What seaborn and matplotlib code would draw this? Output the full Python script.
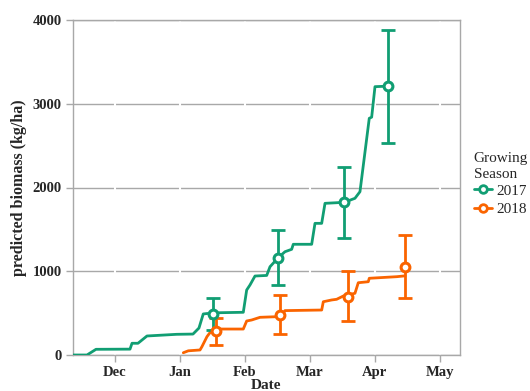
import matplotlib
matplotlib.use("Agg")
import matplotlib.pyplot as plt
import seaborn as sns
import pandas as pd

# Season time axis: months since 1 Nov (1 = Dec, 2 = Jan, ...)
month_ticks = [1, 2, 3, 4, 5, 6]
month_labels = ["Dec", "Jan", "Feb", "Mar", "Apr", "May"]

# Cumulative predicted biomass traces (kg/ha)
x_2017 = [0.354, 0.569, 0.708, 1.231, 1.262, 1.354, 1.492, 1.949, 2.200, 2.292,
          2.358, 2.415, 2.508, 2.615, 2.974, 3.026, 3.077, 3.154, 3.334, 3.385,
          3.512, 3.615, 3.718, 3.743, 4.026, 4.077, 4.180, 4.231, 4.528, 4.692,
          4.769, 4.912, 4.949, 5.000, 5.195]
y_2017 = [0, 0, 68, 70, 140, 140, 227, 247, 250, 322,
          490, 495, 500, 505, 510, 776, 836, 943, 950, 1054,
          1162, 1233, 1262, 1322, 1322, 1572, 1572, 1811, 1823, 1871,
          1950, 2826, 2840, 3204, 3210]

x_2018 = [2.051, 2.128, 2.308, 2.338, 2.415, 2.492, 2.615, 2.974, 3.026, 3.103,
          3.231, 3.477, 3.569, 3.615, 4.180, 4.205, 4.333, 4.410, 4.512, 4.692,
          4.743, 4.897, 4.912, 5.334, 5.462]
y_2018 = [27, 50, 60, 100, 219, 298, 310, 310, 406, 418,
          450, 457, 480, 530, 537, 636, 657, 665, 704, 737,
          863, 875, 916, 935, 945]

# Field estimates with uncertainty ranges
est_x_2017 = [2.508, 3.512, 4.528, 5.195]
est_y_2017 = [490, 1162, 1823, 3210]
est_lo_2017 = [300, 836, 1393, 2528]
est_hi_2017 = [677, 1493, 2249, 3880]

est_x_2018 = [2.549, 3.538, 4.589, 5.462]
est_y_2018 = [290, 478, 697, 1054]
est_lo_2018 = [119, 247, 406, 677]
est_hi_2018 = [438, 716, 1003, 1433]

seasons = ["2017", "2018"]
colors = {"2017": "#119e73", "2018": "#fa6400"}

traces = pd.concat([
    pd.DataFrame({"month": x_2017, "biomass": y_2017, "season": "2017"}),
    pd.DataFrame({"month": x_2018, "biomass": y_2018, "season": "2018"}),
], ignore_index=True)

estimates = pd.concat([
    pd.DataFrame({"month": est_x_2017, "biomass": est_y_2017,
                  "lo": est_lo_2017, "hi": est_hi_2017, "season": "2017"}),
    pd.DataFrame({"month": est_x_2018, "biomass": est_y_2018,
                  "lo": est_lo_2018, "hi": est_hi_2018, "season": "2018"}),
], ignore_index=True)

sns.set_theme(style="white")
serif = ["Liberation Serif", "DejaVu Serif"]
plt.rcParams["font.family"] = serif

fig = plt.figure(figsize=(5.3, 3.91), dpi=100)
ax = fig.add_axes([73 / 530, 36 / 391, 387 / 530, 335 / 391])

sns.lineplot(data=traces, x="month", y="biomass", hue="season",
             palette=colors, sort=False, estimator=None, lw=2,
             legend=False, ax=ax, zorder=3)

for s in seasons:
    d = estimates[estimates["season"] == s]
    ax.errorbar(d["month"], d["biomass"],
                yerr=[d["biomass"] - d["lo"], d["hi"] - d["biomass"]],
                fmt="none", ecolor=colors[s], elinewidth=2, capsize=5,
                capthick=2, zorder=4)
    sns.scatterplot(x=d["month"], y=d["biomass"], ax=ax, s=40,
                    facecolor="white", edgecolor=colors[s], linewidth=2.2,
                    zorder=5, legend=False)

ax.set_xlim(0.354, 6.308)
ax.set_ylim(0, 4000)
ax.set_xticks(month_ticks)
ax.set_xticklabels(month_labels)
ax.set_yticks([0, 1000, 2000, 3000, 4000])

ax.grid(axis="y", color="#a8a8a8", lw=1, zorder=0)
for m in month_ticks:
    ax.axvline(m, color="white", lw=1.5, zorder=1)

for sp in ax.spines.values():
    sp.set_visible(True)
    sp.set_color("#a8a8a8")
    sp.set_linewidth(1)

ax.tick_params(axis="both", direction="out", length=5, width=1,
               color="#a8a8a8", labelsize=10.5, pad=3, bottom=True, left=True)
for lab in ax.get_xticklabels() + ax.get_yticklabels():
    lab.set_fontweight("bold")
    lab.set_fontfamily(serif)

ax.set_xlabel("Date", fontsize=11, fontweight="bold", labelpad=0)
ax.xaxis.set_label_coords(0.5, -0.072)
ax.set_ylabel("predicted biomass (kg/ha)", fontsize=11.5, fontweight="bold",
              labelpad=4)

handles = [plt.Line2D([], [], color=colors[s], lw=2, marker="o",
                      markersize=5.5, markerfacecolor="white",
                      markeredgewidth=2) for s in seasons]
leg = ax.legend(handles, seasons, title="Growing\nSeason",
                loc="upper left", bbox_to_anchor=(1.035, 0.605),
                frameon=False, fontsize=11, title_fontsize=11,
                handlelength=1.2, handletextpad=0.3, labelspacing=0.3,
                borderaxespad=0, borderpad=0)
leg._legend_box.align = "left"
leg._legend_box.sep = 2
leg.get_title().set_linespacing(1.3)

fig.savefig("out.png", dpi=100)
